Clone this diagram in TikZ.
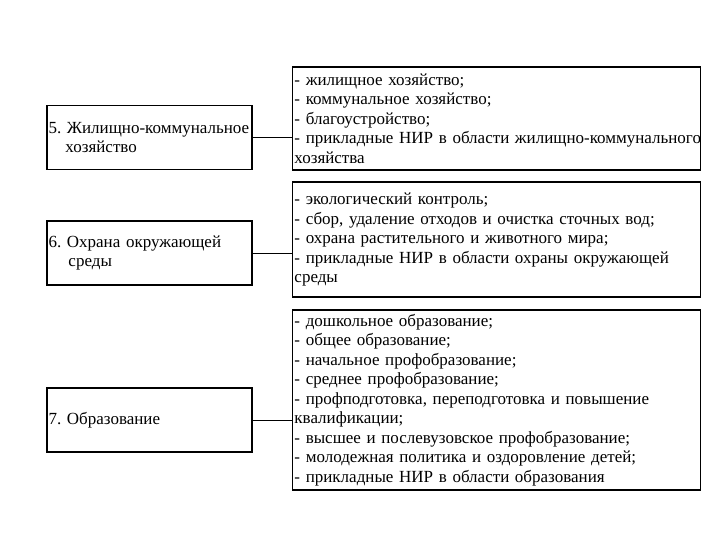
\documentclass[tikz,border=0pt]{standalone}
\usepackage{fontspec}
\setmainfont{Liberation Serif}
\usetikzlibrary{positioning}
\newcommand{\bodyfont}{\fontsize{17}{19.5}\selectfont\frenchspacing}
\tikzset{
  lbox/.style={rectangle,draw=black,line width=1.6pt,
               minimum height=64pt,text width=202pt,inner xsep=1.5pt,
               align=left,font=\bodyfont},
  rbox/.style={rectangle,draw=black,line width=1.3pt,
               minimum height=#1,text width=404pt,inner xsep=2pt,
               align=left,font=\bodyfont},
  conn/.style={line width=0.9pt},
}

\begin{document}
\begin{tikzpicture}[x=1pt,y=-1pt]
  \useasboundingbox (0,0) rectangle (720,540);

  % sections on the left
  \node[lbox] (l5) at (149.5,137.5)
    {\mbox{5. Жилищно-коммунальное}\\\hspace*{17pt}хозяйство};
  \node[lbox] (l6) at (149.5,253)
    {6. Охрана окружающей\\\hspace*{20pt}среды};
  \node[lbox] (l7) at (149.5,420) {7. Образование};

  % contents on the right
  \node[rbox=103pt,right=39pt of l5,yshift=19pt] (r5)
    {- жилищное хозяйство;\\
     - коммунальное хозяйство;\\
     - благоустройство;\\
     \mbox{- прикладные НИР в области жилищно-коммунального}\\
     хозяйства};
  \node[rbox=115pt,right=39pt of l6,yshift=13.5pt] (r6)
    {- экологический контроль;\\
     - сбор, удаление отходов и очистка сточных вод;\\
     - охрана растительного и животного мира;\\
     - прикладные НИР в области охраны окружающей\\
     среды};
  \node[rbox=180pt,right=39pt of l7,yshift=20pt] (r7)
    {- дошкольное образование;\\
     - общее образование;\\
     - начальное профобразование;\\
     - среднее профобразование;\\
     - профподготовка, переподготовка и повышение\\
     квалификации;\\
     - высшее и послевузовское профобразование;\\
     - молодежная политика и оздоровление детей;\\
     - прикладные НИР в области образования};

  \draw[conn] (l5.east) -- (l5.east -| r5.west);
  \draw[conn] (l6.east) -- (l6.east -| r6.west);
  \draw[conn] (l7.east) -- (l7.east -| r7.west);
\end{tikzpicture}
\end{document}
